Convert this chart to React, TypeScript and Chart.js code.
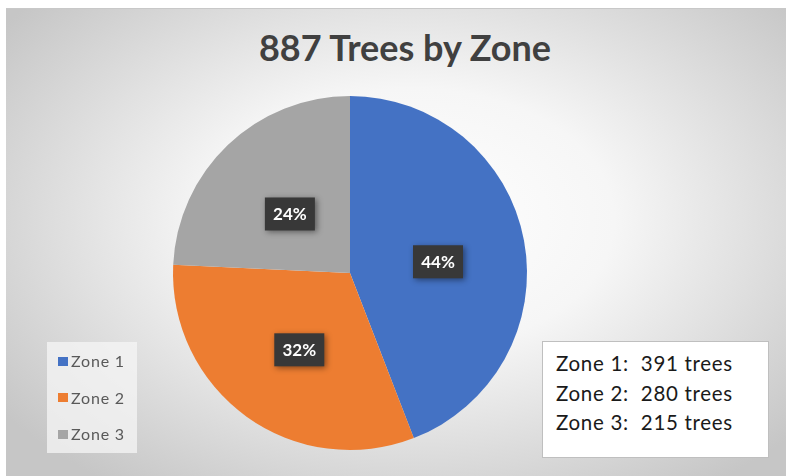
import React, { useEffect, useRef } from "react";
import { Chart, registerables } from "chart.js";

Chart.register(...registerables);

const title = "887 Trees by Zone";
const zones = ["Zone 1", "Zone 2", "Zone 3"];
const trees = [391, 280, 215];
const colors = ["#4472C4", "#ED7D31", "#A5A5A5"];

const labelPlugin = {
  id: "pctLabels",
  afterDatasetsDraw(chart: any) {
    const ctx = chart.ctx;
    const meta = chart.getDatasetMeta(0);
    const data = chart.data.datasets[0].data as number[];
    const total = data.reduce((a, b) => a + b, 0);
    meta.data.forEach((arc: any, i: number) => {
      const p = arc.tooltipPosition();
      const cx = p.x + 1;
      const cy = p.y + 5;
      const txt = Math.round((data[i] / total) * 100) + "%";
      ctx.save();
      ctx.font = "bold 17px Lato, 'Open Sans', sans-serif";
      const w = 50, h = 33;
      ctx.shadowColor = "rgba(0,0,0,0.45)";
      ctx.shadowBlur = 6;
      ctx.shadowOffsetX = 2;
      ctx.shadowOffsetY = 2;
      ctx.fillStyle = "#383838";
      ctx.fillRect(cx - w / 2, cy - h / 2, w, h);
      ctx.shadowColor = "transparent";
      ctx.fillStyle = "#ffffff";
      ctx.textAlign = "center";
      ctx.textBaseline = "middle";
      ctx.fillText(txt, cx, cy + 1);
      ctx.restore();
    });
  },
};

export default function App() {
  const ref = useRef<HTMLCanvasElement>(null);
  useEffect(() => {
    const chart = new Chart(ref.current as HTMLCanvasElement, {
      type: "pie",
      data: {
        labels: zones,
        datasets: [{ data: trees, backgroundColor: colors, borderWidth: 0 }],
      },
      options: {
        responsive: false,
        animation: false,
        layout: { padding: { left: 173, right: 259, top: 96, bottom: 26 } },
        plugins: {
          legend: { display: false },
          tooltip: { enabled: false },
          title: { display: false },
        },
      },
      plugins: [labelPlugin],
    });
    return () => chart.destroy();
  }, []);

  return (
    <div style={{ position: "absolute", left: 0, top: 0, width: 786, height: 476, background: "#ffffff", overflow: "hidden" }}>
      <div
        style={{
          position: "absolute",
          left: 6,
          top: 8,
          width: 780,
          height: 468,
          borderTop: "1px solid #c8c8c8",
          background: "radial-gradient(ellipse 65% 70% at 52% 45%, #ffffff 0%, #f6f6f6 40%, #d6d6d6 80%, #c6c6c6 100%)",
        }}
      />
      <div
        style={{
          position: "absolute",
          left: 0,
          top: 25,
          width: 810,
          textAlign: "center",
          fontFamily: "Lato, 'Open Sans', sans-serif",
          fontWeight: 700,
          fontSize: 36,
          color: "#404040",
          lineHeight: "44px",
        }}
      >
        {title}
      </div>
      <canvas ref={ref} width={786} height={476} style={{ position: "absolute", left: 0, top: 0 }} />
      <div
        style={{
          position: "absolute",
          left: 47,
          top: 342,
          width: 90,
          height: 111,
          background: "rgba(245,245,245,0.75)",
          fontFamily: "Lato, 'Open Sans', sans-serif",
          fontSize: 16,
          color: "#595959",
        }}
      >
        {zones.map((z, i) => (
          <div key={z} style={{ position: "absolute", left: 11, top: 9 + i * 36.5, height: 20, lineHeight: "20px", display: "flex", alignItems: "center" }}>
            <span style={{ display: "inline-block", width: 10, height: 9, background: colors[i], marginRight: 3 }} />
            <span style={{ letterSpacing: 0.8 }}>{z}</span>
          </div>
        ))}
      </div>
      <div
        style={{
          position: "absolute",
          left: 542,
          top: 341,
          width: 227,
          height: 117,
          background: "#ffffff",
          border: "1px solid #bfbfbf",
          boxSizing: "border-box",
          fontFamily: "Lato, 'Open Sans', sans-serif",
          fontSize: 20.5,
          letterSpacing: 0.7,
          color: "#1a1a1a",
          paddingLeft: 13,
          paddingTop: 7,
        }}
      >
        {zones.map((z, i) => (
          <div key={z} style={{ height: 29.5, lineHeight: "29.5px", whiteSpace: "pre" }}>
            {`${z}:  ${trees[i]} trees`}
          </div>
        ))}
      </div>
    </div>
  );
}
